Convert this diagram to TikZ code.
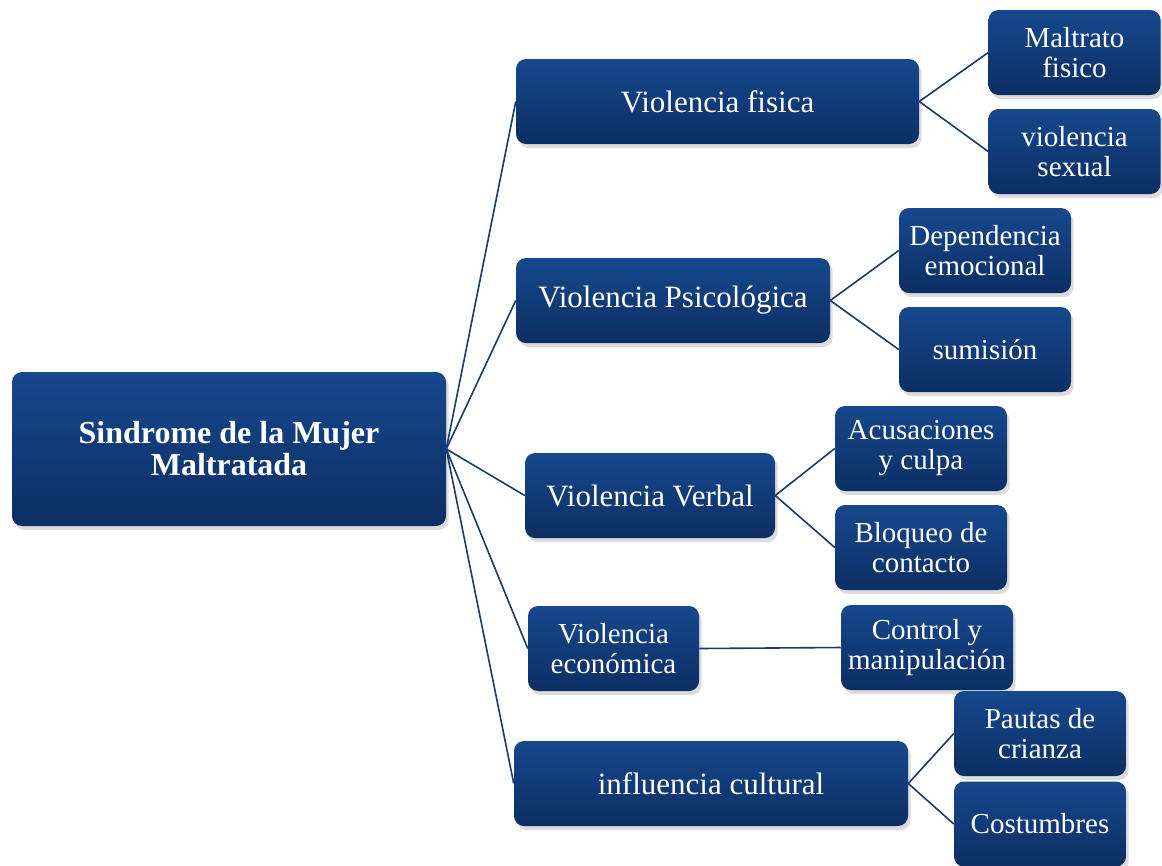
\documentclass[tikz,border=0pt]{standalone}
\usepackage{fontspec}
\setmainfont{Liberation Serif}
\usetikzlibrary{shadows}
\definecolor{boxtop}{HTML}{16488D}
\definecolor{boxbot}{HTML}{0C2E63}
\definecolor{linec}{HTML}{1B3A6B}
\tikzset{
  box/.style={rectangle, rounded corners=7.5pt, top color=boxtop, bottom color=boxbot,
    draw=none, text=white, align=center, inner sep=2pt,
    drop shadow={opacity=0.28, shadow xshift=2pt, shadow yshift=-3pt},
    font=\fontsize{23.25}{22.5}\selectfont},
  small/.style={box, minimum width=129pt, minimum height=63.75pt,
    font=\fontsize{21.75}{22.5}\selectfont},
  mid/.style={box, minimum height=63.75pt},
  conn/.style={draw=linec, line width=1.2pt}
}
\begin{document}
\begin{tikzpicture}[x=0.75pt,y=-0.75pt]
\useasboundingbox (0,0) rectangle (1162,865);
% nodes
\node[box, minimum width=325.5pt, minimum height=115.5pt, font=\bfseries\fontsize{24}{24}\selectfont] (c) at (229,449) {Sindrome de la Mujer\\Maltratada};
\node[mid, minimum width=302.25pt] (vf) at (717.5,101.5) {Violencia fisica};
\node[small] (mf) at (1074.5,52.5) {Maltrato\\fisico};
\node[small] (vs) at (1074.5,151.5) {violencia\\sexual};
\node[mid, minimum width=235.5pt] (vp) at (673,300.5) {Violencia Psicológica};
\node[small] (de) at (985,250.5) {Dependencia\\emocional};
\node[small] (su) at (985,349.5) {sumisión};
\node[mid, minimum width=187.5pt] (vv) at (650,495.5) {Violencia Verbal};
\node[small] (ac) at (921,448.5) {Acusaciones\\y culpa};
\node[small] (bc) at (921,547.5) {Bloqueo de\\contacto};
\node[mid, minimum width=128.25pt, font=\fontsize{21.75}{22.5}\selectfont] (ve) at (613.5,648.5) {Violencia\\económica};
\node[small] (cm) at (927,647.5) {Control y\\manipulación};
\node[mid, minimum width=295.5pt] (ic) at (711,783.5) {influencia cultural};
\node[small] (pc) at (1040,733.5) {Pautas de\\crianza};
\node[small] (co) at (1040,824) {Costumbres};
% connectors
\begin{scope}[on background layer/.try]
\end{scope}
\foreach \t in {vf,vp,vv,ve,ic} \draw[conn] (c.east) -- (\t.west);
\draw[conn] (vf.east) -- (mf.west);
\draw[conn] (vf.east) -- (vs.west);
\draw[conn] (vp.east) -- (de.west);
\draw[conn] (vp.east) -- (su.west);
\draw[conn] (vv.east) -- (ac.west);
\draw[conn] (vv.east) -- (bc.west);
\draw[conn] (ve.east) -- (cm.west);
\draw[conn] (ic.east) -- (pc.west);
\draw[conn] (ic.east) -- (co.west);
\end{tikzpicture}
\end{document}
